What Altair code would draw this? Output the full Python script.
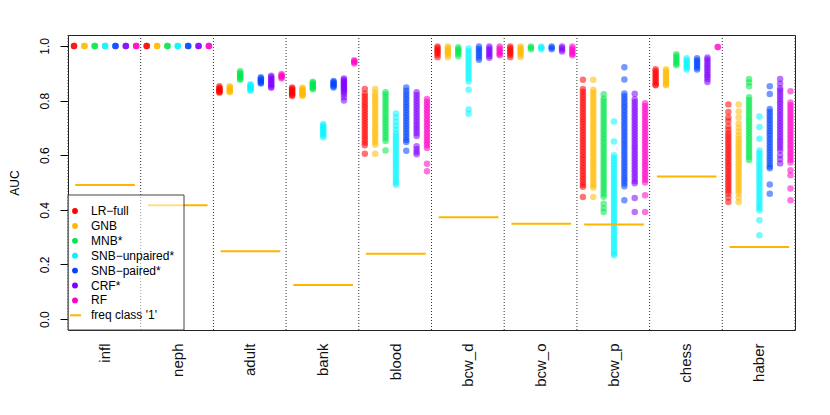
import json
import altair as alt
import pandas as pd

groups = ["infl", "neph", "adult", "bank", "blood", "bcw_d", "bcw_o", "bcw_p", "chess", "haber"]
methods = ["LR−full", "GNB", "MNB*", "SNB−unpaired*", "SNB−paired*", "CRF*", "RF"]
colors = ["#FF0000", "#FFB900", "#00E84A", "#00F5FF", "#0044FF", "#8000FF", "#FF00C8"]
freq_class1 = [0.491, 0.417, 0.248, 0.125, 0.239, 0.373, 0.349, 0.346, 0.522, 0.264]
freq_color = "#FFB400"
y_ticks = [0.0, 0.2, 0.4, 0.6, 0.8, 1.0]

# AUC values per method (LR-full, GNB, MNB*, SNB-unpaired*, SNB-paired*, CRF*, RF)
infl = [[1.0, 1.0, 1.0], [1.0, 1.0, 1.0], [1.0, 1.0, 1.0], [1.0, 1.0, 1.0],
        [1.0, 1.0, 1.0], [1.0, 1.0, 1.0], [1.0, 1.0, 1.0]]
neph = [[1.0, 1.0, 1.0], [1.0, 1.0, 1.0], [1.0, 1.0, 1.0], [1.0, 1.0, 1.0],
        [1.0, 1.0, 1.0], [1.0, 1.0, 1.0], [1.0, 1.0, 1.0]]
adult = [
    [0.852, 0.847, 0.843, 0.840, 0.837, 0.834, 0.831, 0.829],
    [0.852, 0.848, 0.844, 0.840, 0.836, 0.833, 0.830],
    [0.907, 0.902, 0.897, 0.892, 0.888, 0.884, 0.880, 0.876],
    [0.860, 0.856, 0.852, 0.848, 0.844, 0.840, 0.836],
    [0.885, 0.881, 0.877, 0.873, 0.869, 0.865, 0.862],
    [0.891, 0.886, 0.881, 0.876, 0.871, 0.866, 0.861, 0.856, 0.851, 0.847],
    [0.897, 0.893, 0.889, 0.885, 0.881],
]
bank = [
    [0.848, 0.844, 0.840, 0.836, 0.832, 0.828, 0.824, 0.820, 0.817],
    [0.847, 0.843, 0.839, 0.835, 0.831, 0.827, 0.823, 0.819, 0.817],
    [0.869, 0.865, 0.861, 0.857, 0.853, 0.849, 0.845, 0.841],
    [0.714, 0.708, 0.702, 0.696, 0.690, 0.684, 0.678, 0.672, 0.666],
    [0.872, 0.868, 0.864, 0.860, 0.856, 0.852, 0.848],
    [0.881, 0.876, 0.871, 0.866, 0.861, 0.856, 0.851, 0.846, 0.841, 0.836, 0.830, 0.822, 0.812, 0.800],
    [0.948, 0.944, 0.940, 0.936],
]
blood = [
    [0.842, 0.826, 0.816, 0.806, 0.796, 0.786, 0.776, 0.766, 0.756, 0.746, 0.736, 0.726, 0.716,
     0.706, 0.696, 0.686, 0.676, 0.666, 0.656, 0.646, 0.636, 0.605],
    [0.842, 0.828, 0.818, 0.808, 0.798, 0.788, 0.778, 0.768, 0.758, 0.748, 0.738, 0.728, 0.718,
     0.708, 0.698, 0.688, 0.678, 0.668, 0.658, 0.648, 0.638, 0.605],
    [0.830, 0.822, 0.812, 0.802, 0.792, 0.782, 0.772, 0.762, 0.752, 0.742, 0.732, 0.722, 0.712,
     0.702, 0.692, 0.682, 0.672, 0.662, 0.652, 0.617],
    [0.753, 0.738, 0.722, 0.708, 0.694, 0.680, 0.670, 0.660, 0.650, 0.640, 0.630, 0.620, 0.610,
     0.600, 0.590, 0.580, 0.570, 0.560, 0.550, 0.540, 0.530, 0.520, 0.510, 0.500, 0.492],
    [0.848, 0.836, 0.826, 0.816, 0.806, 0.796, 0.786, 0.776, 0.766, 0.756, 0.746, 0.736, 0.726,
     0.716, 0.706, 0.696, 0.686, 0.676, 0.666, 0.656, 0.648, 0.616],
    [0.830, 0.820, 0.810, 0.800, 0.790, 0.780, 0.770, 0.760, 0.750, 0.740, 0.730, 0.720, 0.710,
     0.700, 0.690, 0.680, 0.670, 0.633, 0.622, 0.612, 0.603],
    [0.806, 0.796, 0.786, 0.776, 0.766, 0.756, 0.746, 0.736, 0.726, 0.716, 0.706, 0.696, 0.686,
     0.676, 0.666, 0.656, 0.646, 0.636, 0.626, 0.569, 0.541],
]
bcw_d = [
    [0.998, 0.992, 0.986, 0.980, 0.974, 0.968, 0.959],
    [0.998, 0.992, 0.986, 0.980, 0.974, 0.968, 0.959],
    [0.995, 0.989, 0.983, 0.977, 0.970, 0.962],
    [0.991, 0.981, 0.971, 0.961, 0.951, 0.941, 0.931, 0.921, 0.911, 0.901, 0.891, 0.881, 0.870,
     0.840, 0.767, 0.752],
    [0.998, 0.990, 0.982, 0.974, 0.966, 0.958, 0.949],
    [0.998, 0.991, 0.984, 0.977, 0.970, 0.963, 0.957],
    [0.998, 0.991, 0.984, 0.977, 0.970, 0.966],
]
bcw_o = [
    [0.998, 0.992, 0.986, 0.980, 0.974, 0.968, 0.959],
    [0.998, 0.992, 0.986, 0.980, 0.974, 0.968, 0.959],
    [0.998, 0.993, 0.988],
    [0.998, 0.993, 0.988],
    [0.998, 0.993, 0.988],
    [0.998, 0.992, 0.986, 0.980],
    [0.998, 0.991, 0.984, 0.977, 0.970, 0.966],
]
bcw_p = [
    [0.876, 0.842, 0.832, 0.822, 0.812, 0.802, 0.792, 0.782, 0.772, 0.762, 0.752, 0.742, 0.732,
     0.722, 0.712, 0.702, 0.692, 0.682, 0.672, 0.662, 0.652, 0.642, 0.632, 0.622, 0.612, 0.602,
     0.592, 0.582, 0.572, 0.562, 0.552, 0.542, 0.532, 0.522, 0.512, 0.502, 0.492, 0.484, 0.447],
    [0.876, 0.840, 0.830, 0.820, 0.810, 0.800, 0.790, 0.780, 0.770, 0.760, 0.750, 0.740, 0.730,
     0.720, 0.710, 0.700, 0.690, 0.680, 0.670, 0.660, 0.650, 0.640, 0.630, 0.620, 0.610, 0.600,
     0.590, 0.580, 0.570, 0.560, 0.550, 0.540, 0.530, 0.520, 0.510, 0.500, 0.490, 0.482, 0.447],
    [0.823, 0.808, 0.798, 0.788, 0.778, 0.768, 0.758, 0.748, 0.738, 0.728, 0.718, 0.708, 0.698,
     0.688, 0.678, 0.668, 0.658, 0.648, 0.638, 0.628, 0.618, 0.608, 0.598, 0.588, 0.578, 0.568,
     0.558, 0.548, 0.538, 0.528, 0.518, 0.508, 0.498, 0.488, 0.478, 0.468, 0.458, 0.448, 0.422,
     0.406, 0.392],
    [0.723, 0.650, 0.600, 0.590, 0.580, 0.570, 0.560, 0.550, 0.540, 0.530, 0.520, 0.510, 0.500,
     0.490, 0.480, 0.470, 0.460, 0.450, 0.440, 0.430, 0.420, 0.410, 0.400, 0.390, 0.380, 0.370,
     0.360, 0.350, 0.340, 0.330, 0.320, 0.310, 0.300, 0.290, 0.280, 0.270, 0.260, 0.250, 0.240,
     0.234],
    [0.922, 0.877, 0.826, 0.816, 0.806, 0.796, 0.786, 0.776, 0.766, 0.756, 0.746, 0.736, 0.726,
     0.716, 0.706, 0.696, 0.686, 0.676, 0.666, 0.656, 0.646, 0.636, 0.626, 0.616, 0.606, 0.596,
     0.586, 0.576, 0.566, 0.556, 0.546, 0.536, 0.526, 0.516, 0.506, 0.496, 0.486, 0.435],
    [0.825, 0.805, 0.795, 0.785, 0.775, 0.765, 0.755, 0.745, 0.735, 0.725, 0.715, 0.705, 0.695,
     0.685, 0.675, 0.665, 0.655, 0.645, 0.635, 0.625, 0.615, 0.605, 0.595, 0.585, 0.575, 0.565,
     0.555, 0.545, 0.535, 0.525, 0.515, 0.505, 0.497, 0.443, 0.392],
    [0.790, 0.780, 0.770, 0.760, 0.750, 0.740, 0.730, 0.720, 0.710, 0.700, 0.690, 0.680, 0.670,
     0.660, 0.650, 0.640, 0.630, 0.620, 0.610, 0.600, 0.590, 0.580, 0.570, 0.560, 0.550, 0.540,
     0.530, 0.520, 0.510, 0.500, 0.453, 0.392],
]
chess = [
    [0.915, 0.908, 0.901, 0.894, 0.887, 0.880, 0.873, 0.866, 0.859, 0.856],
    [0.915, 0.908, 0.901, 0.894, 0.887, 0.880, 0.873, 0.866, 0.859, 0.856],
    [0.970, 0.963, 0.956, 0.949, 0.942, 0.935, 0.929],
    [0.955, 0.948, 0.941, 0.934, 0.927, 0.920, 0.914],
    [0.955, 0.948, 0.941, 0.934, 0.927, 0.920, 0.914],
    [0.958, 0.950, 0.942, 0.934, 0.926, 0.918, 0.910, 0.902, 0.894, 0.886, 0.878, 0.868],
    [0.996, 0.996],
]
haber = [
    [0.786, 0.758, 0.738, 0.724, 0.706, 0.692, 0.680, 0.670, 0.660, 0.650, 0.640, 0.630, 0.620,
     0.610, 0.600, 0.590, 0.580, 0.570, 0.560, 0.550, 0.540, 0.530, 0.520, 0.510, 0.500, 0.490,
     0.480, 0.470, 0.460, 0.445, 0.429],
    [0.786, 0.760, 0.738, 0.716, 0.700, 0.686, 0.672, 0.660, 0.650, 0.640, 0.630, 0.620, 0.610,
     0.600, 0.590, 0.580, 0.570, 0.560, 0.550, 0.540, 0.530, 0.520, 0.510, 0.500, 0.490, 0.480,
     0.470, 0.460, 0.445, 0.429],
    [0.879, 0.866, 0.852, 0.812, 0.802, 0.792, 0.782, 0.772, 0.762, 0.752, 0.742, 0.732, 0.722,
     0.712, 0.702, 0.692, 0.682, 0.672, 0.662, 0.652, 0.642, 0.632, 0.622, 0.612, 0.602, 0.592,
     0.582],
    [0.742, 0.703, 0.660, 0.617, 0.607, 0.597, 0.587, 0.577, 0.567, 0.557, 0.547, 0.537, 0.527,
     0.517, 0.507, 0.497, 0.487, 0.477, 0.467, 0.457, 0.447, 0.437, 0.427, 0.417, 0.407, 0.398,
     0.362, 0.307],
    [0.852, 0.824, 0.769, 0.759, 0.749, 0.739, 0.729, 0.719, 0.709, 0.699, 0.689, 0.679, 0.669,
     0.659, 0.649, 0.639, 0.629, 0.619, 0.609, 0.599, 0.589, 0.579, 0.569, 0.559, 0.552, 0.493,
     0.459],
    [0.879, 0.862, 0.845, 0.837, 0.827, 0.817, 0.807, 0.797, 0.787, 0.777, 0.767, 0.757, 0.747,
     0.737, 0.727, 0.717, 0.707, 0.697, 0.687, 0.677, 0.667, 0.657, 0.647, 0.637, 0.627, 0.617,
     0.600, 0.585, 0.570],
    [0.834, 0.793, 0.783, 0.773, 0.763, 0.753, 0.743, 0.733, 0.723, 0.713, 0.703, 0.693, 0.683,
     0.673, 0.663, 0.653, 0.643, 0.633, 0.623, 0.613, 0.603, 0.593, 0.583, 0.573, 0.545, 0.527,
     0.478, 0.435],
]

group_values = [infl, neph, adult, bank, blood, bcw_d, bcw_o, bcw_p, chess, haber]

FONT = "Liberation Sans"
W, H = 727, 295

# ---- tables built from the arrays above ----
rows = []
for gi, gvals in enumerate(group_values):
    for mi, vals in enumerate(gvals):
        for v in vals:
            rows.append({"x": gi + 0.083 + mi * 0.1425, "auc": v, "method": methods[mi]})
points_df = pd.DataFrame(rows)

sep_df = pd.DataFrame({"x": list(range(len(groups) + 1))})
freq_df = pd.DataFrame({
    "x": [i + 0.10 for i in range(len(groups))],
    "x2": [i + 0.92 for i in range(len(groups))],
    "auc": freq_class1,
})

legend_labels = methods + ["freq class '1'"]
legend_df = pd.DataFrame({
    "label": legend_labels,
    "py": [176 + 14.9 * i for i in range(len(legend_labels))],
})
legend_pts = legend_df.iloc[: len(methods)].rename(columns={"label": "method"})

label_expr = json.dumps(groups) + "[floor(datum.value)]"

xenc = alt.X(
    "x:Q",
    scale=alt.Scale(domain=[0, len(groups)], nice=False, zero=False),
    axis=alt.Axis(
        values=[i + 0.5 for i in range(len(groups))],
        labelExpr=label_expr,
        labelAngle=270, labelAlign="right", labelBaseline="middle",
        ticks=False, tickSize=0, domain=False, grid=False,
        labelPadding=13, labelFontSize=15, labelFont=FONT, labelColor="#111111",
        labelOverlap=False, title=None,
    ),
)
yenc = alt.Y(
    "auc:Q",
    scale=alt.Scale(domain=[-0.04, 1.04], nice=False, zero=False),
    axis=alt.Axis(
        values=y_ticks, format=".1f",
        labelAngle=270, labelAlign="center", labelBaseline="bottom",
        tickSize=8, tickColor="black", tickWidth=1,
        labelPadding=9, labelFontSize=12, labelFont=FONT, labelColor="black",
        labelOverlap=False, labelFlush=False,
        domain=False, grid=False,
        title="AUC", titleFont=FONT, titleFontSize=12, titleFontWeight="normal",
        titleColor="black", titleAngle=270, titleX=-54, titleY=H / 2,
        titleAlign="center", titleBaseline="middle",
    ),
)
color_scale = alt.Scale(domain=methods, range=colors)

seps = alt.Chart(sep_df).mark_rule(color="#333333", strokeDash=[1, 2], strokeWidth=1).encode(
    x=alt.X("x:Q")
)
freq = alt.Chart(freq_df).mark_rule(color=freq_color, strokeWidth=2).encode(
    x=alt.X("x:Q"), x2="x2:Q", y=alt.Y("auc:Q")
)
pts = alt.Chart(points_df).mark_circle(size=42, opacity=0.55).encode(
    x=xenc, y=yenc,
    color=alt.Color("method:N", scale=color_scale, legend=None),
)

leg_box = alt.Chart(pd.DataFrame({"a": [0]})).mark_rect(
    fill="white", fillOpacity=0.55, stroke="#444444", strokeWidth=1
).encode(x=alt.value(0), x2=alt.value(116), y=alt.value(160), y2=alt.value(H))

leg_sym = alt.Chart(legend_pts).mark_circle(size=34, opacity=1).encode(
    x=alt.value(7),
    y=alt.Y("py:Q", scale=None),
    color=alt.Color("method:N", scale=color_scale, legend=None),
)
leg_line = alt.Chart(legend_df.iloc[len(methods):]).mark_rule(color=freq_color, strokeWidth=2).encode(
    x=alt.value(2), x2=alt.value(13), y=alt.Y("py:Q", scale=None)
)
leg_text = alt.Chart(legend_df).mark_text(
    align="left", baseline="middle", fontSize=12, font=FONT, color="black"
).encode(x=alt.value(23), y=alt.Y("py:Q", scale=None), text="label:N")

chart = alt.layer(pts, seps, freq, leg_box, leg_sym, leg_line, leg_text).properties(
    width=W, height=H,
    autosize=alt.AutoSizeParams(type="none"),
    padding={"left": 60, "top": 27, "right": 20, "bottom": 70},
    background="white",
).configure_view(stroke="#222222", strokeWidth=1)

chart.save("out.html", embed_options={"renderer": "svg", "actions": False})
